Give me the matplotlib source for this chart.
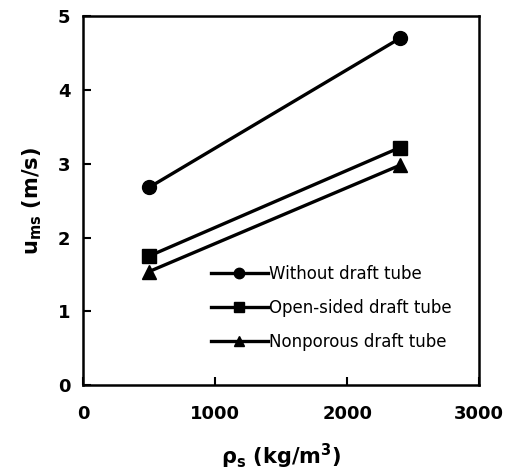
import matplotlib.pyplot as plt

plt.rcParams['font.family'] = ['DejaVu Sans']
plt.rcParams['mathtext.fontset'] = 'custom'
plt.rcParams['mathtext.rm'] = 'DejaVu Sans:bold'

density = [500, 2400]
without_tube = [2.68, 4.70]
open_sided = [1.75, 3.22]
nonporous = [1.54, 2.98]

series = [
    (without_tube, 'o', 'Without draft tube'),
    (open_sided, 's', 'Open-sided draft tube'),
    (nonporous, '^', 'Nonporous draft tube'),
]

fig = plt.figure(figsize=(5.13, 4.75), dpi=100)
ax = fig.add_axes([0.162, 0.189, 0.772, 0.777])

for y, m, lab in series:
    ax.plot(density, y, color='black', lw=2.4, marker=m, ms=10, label=lab)

ax.set_xlim(0, 3000)
ax.set_ylim(0, 5)
ax.set_xticks([0, 1000, 2000, 3000])
ax.set_yticks([0, 1, 2, 3, 4, 5])
ax.tick_params(direction='in', length=6, width=1.5, labelsize=13, pad=9)
ax.tick_params(axis='x', pad=14)
plt.setp(ax.get_xticklabels() + ax.get_yticklabels(), fontweight='bold')
for sp in ax.spines.values():
    sp.set_linewidth(1.8)

ax.set_xlabel(r'ρ$_{\mathregular{s}}$ (kg/m$^{\mathregular{3}}$)', fontsize=15, fontweight='bold', labelpad=14)
ax.set_ylabel(r'u$_{\mathregular{ms}}$ (m/s)', fontsize=15, fontweight='bold', labelpad=10)

# legend sits inside the lower-right part of the axes, no frame
ax.legend(loc='upper left', frameon=False, fontsize=12, handlelength=3.4,
          handletextpad=0.1, labelspacing=0.95, borderpad=0, borderaxespad=0,
          markerscale=0.75, bbox_to_anchor=(0.323, 0.325))

fig.savefig('out.png', dpi=100)
